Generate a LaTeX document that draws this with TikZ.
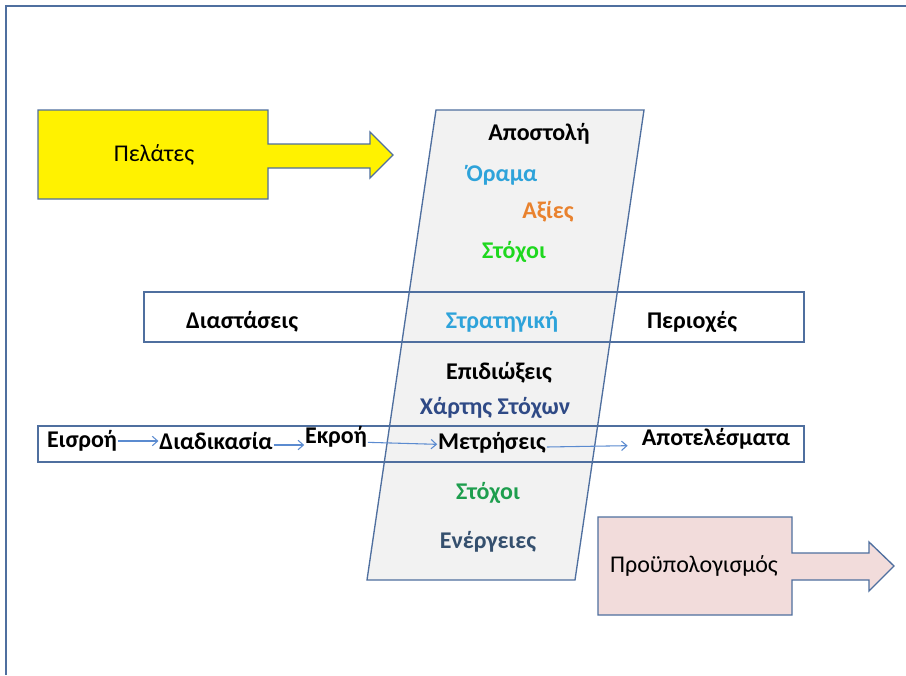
\documentclass[tikz,border=0pt]{standalone}
\usepackage{fontspec}
\setmainfont{Carlito}
\usetikzlibrary{arrows.meta}
\definecolor{edge}{HTML}{4F6F9F}
\definecolor{panel}{HTML}{F2F2F2}
\definecolor{budget}{HTML}{F2DCDB}
\definecolor{skyblue}{HTML}{2EA3DA}
\definecolor{orangeval}{HTML}{E9822E}
\definecolor{brightgreen}{HTML}{1ED81E}
\definecolor{midgreen}{HTML}{1E9E4E}
\definecolor{navytext}{HTML}{2F4A86}
\definecolor{slatetext}{HTML}{35506E}
\definecolor{flowblue}{HTML}{5B8BD0}
\tikzset{
  outline/.style={draw=edge, line width=1pt},
  lbl/.style={font=\fontsize{18}{21}\selectfont\bfseries, inner sep=0.5pt},
  plain/.style={font=\fontsize{18}{21}\selectfont, inner sep=0.5pt},
  flow/.style={draw=flowblue, line width=0.8pt, -{Straight Barb[length=4pt,width=7pt]}},
}
\begin{document}
\begin{tikzpicture}[x=0.75pt,y=-0.75pt]
\useasboundingbox (0,0) rectangle (906,675);
\fill[white] (0,0) rectangle (906,675);
% page frame (top and left edges)
\draw[edge, line width=1.6pt] (906,6) -- (6,6) -- (6,675);

% strategy panel (parallelogram)
\draw[outline, fill=panel] (436,110) -- (644,110) -- (575,580) -- (367,580) -- cycle;

% dimension band
\draw[outline] (144,292) rectangle (804,342);
% process band
\draw[outline] (38,426) rectangle (804,462);

% customers arrow
\draw[outline, fill=yellow] (38,110) -- (268,110) -- (268,144) -- (370,144) -- (370,132)
  -- (393,155) -- (370,178) -- (370,168) -- (268,168) -- (268,199) -- (38,199) -- cycle;
\node[plain] (pelates) at (154,155) {Πελάτες};

% budget arrow
\draw[outline, fill=budget] (598,517) -- (792,517) -- (792,553) -- (869,553) -- (869,542)
  -- (894,566) -- (869,591) -- (869,580) -- (792,580) -- (792,615) -- (598,615) -- cycle;
\node[plain] (budgetlbl) at (694,566) {Προϋπολογισμός};

% panel texts
\node[lbl] (mission) at (539,134) {Αποστολή};
\node[lbl, text=skyblue] (vision) at (502,175) {Όραμα};
\node[lbl, text=orangeval] (values) at (548,212) {Αξίες};
\node[lbl, text=brightgreen] (goalsA) at (514,252) {Στόχοι};
\node[lbl, text=skyblue] (strategy) at (502,322) {Στρατηγική};
\node[lbl] (pursuits) at (499,373) {Επιδιώξεις};
\node[lbl, text=navytext] (goalmap) at (495,408) {Χάρτης Στόχων};
\node[lbl, text=midgreen] (goalsB) at (488,493) {Στόχοι};
\node[lbl, text=slatetext] (actions) at (488,542) {Ενέργειες};

% band texts
\node[lbl] (dims) at (242,322) {Διαστάσεις};
\node[lbl] (areas) at (692,322) {Περιοχές};

% process chain
\node[lbl] (input) at (82,441) {Εισροή};
\node[lbl] (process) at (216,441) {Διαδικασία};
\node[lbl] (output) at (336,437) {Εκροή};
\node[lbl] (measure) at (492,443) {Μετρήσεις};
\node[lbl] (results) at (716,439) {Αποτελέσματα};

\draw[flow] (input.east) -- (process.west);
\draw[flow] ([yshift=-3pt]process.east) -- ([yshift=-6pt]output.west);
\draw[flow] ([yshift=-4pt]output.east) -- ([yshift=-1pt]measure.west);
\draw[flow] ([yshift=-3pt]measure.east) -- ([yshift=-5pt,xshift=-10pt]results.west);
\end{tikzpicture}
\end{document}
